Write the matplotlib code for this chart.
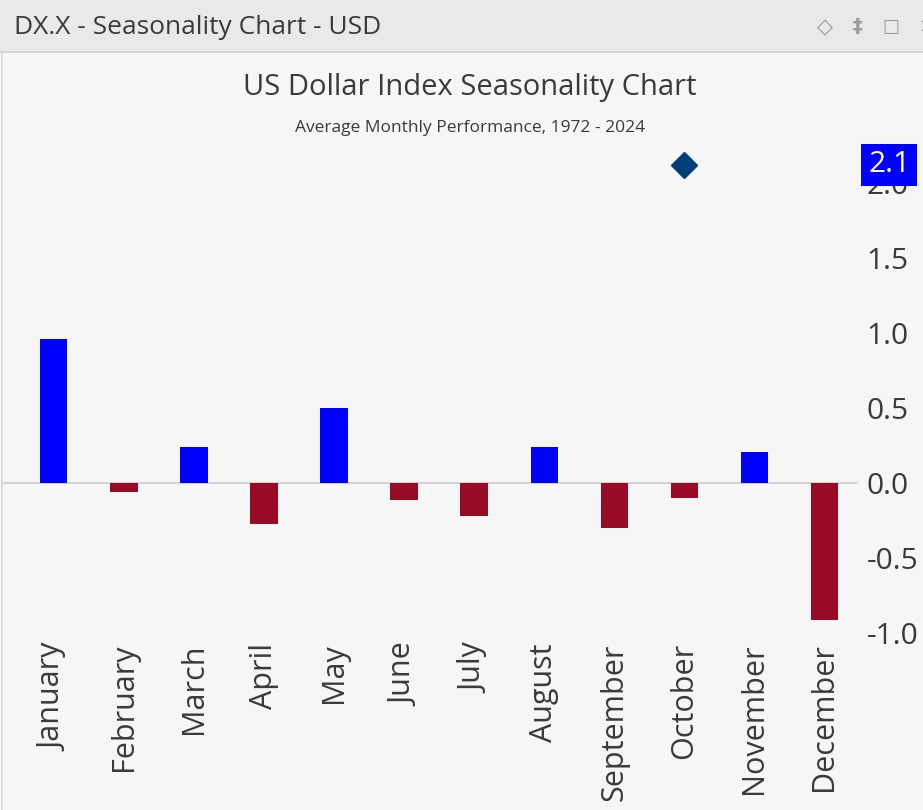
import matplotlib.pyplot as plt
import numpy as np

# Datos: rendimiento medio mensual del índice del dólar (%)
meses = ['January', 'February', 'March', 'April', 'May', 'June', 'July',
         'August', 'September', 'October', 'November', 'December']
rendimiento = [0.96, -0.06, 0.24, -0.27, 0.50, -0.11, -0.22, 0.24, -0.30, -0.10, 0.21, -0.91]
mes_actual = 9
valor_actual = 2.12
yticks = [-1.0, -0.5, 0.0, 0.5, 1.0, 1.5, 2.0]

azul = '#0000ff'
rojo = '#990a26'
gris_texto = '#3a3a3a'
fondo = '#f6f6f6'

plt.rcParams['font.family'] = ['Open Sans', 'DejaVu Sans']

fig = plt.figure(figsize=(9.23, 8.10), dpi=100)
fig.patch.set_facecolor(fondo)

# Cabecera de la ventana
fig.patches.append(plt.Rectangle((0, 1 - 52 / 810), 1, 52 / 810, transform=fig.transFigure,
                                 facecolor='#e9e9e9', edgecolor='none', zorder=0))
fig.lines.append(plt.Line2D([0, 1], [1 - 52 / 810, 1 - 52 / 810], transform=fig.transFigure,
                            color='#cfcfcf', lw=1.2))
# borde izquierdo del panel
fig.lines.append(plt.Line2D([2 / 923, 2 / 923], [0, 1 - 52 / 810], transform=fig.transFigure,
                            color='#d8d8d8', lw=1.2))
fig.text(14 / 923, 1 - 27 / 810, 'DX.X - Seasonality Chart - USD', fontsize=19,
         color=gris_texto, va='center', ha='left')
fig.text(825 / 923, 1 - 27 / 810, '◇', fontsize=15, family='DejaVu Sans', color='#999999',
         va='center', ha='center')
fig.text(857 / 923, 1 - 27 / 810, '‡', fontsize=14, family='DejaVu Sans', color='#999999',
         va='center', ha='center', fontweight='bold')
fig.text(891 / 923, 1 - 27 / 810, '□', fontsize=13, family='DejaVu Sans', color='#999999',
         va='center', ha='center')
fig.text(918 / 923, 1 - 27 / 810, '×', fontsize=14, family='DejaVu Sans', color='#999999',
         va='center', ha='left')

# Títulos
fig.text(470 / 923, 1 - 88 / 810, 'US Dollar Index Seasonality Chart', fontsize=21,
         color=gris_texto, ha='center', va='center')
fig.text(470 / 923, 1 - 128 / 810, 'Average Monthly Performance, 1972 - 2024', fontsize=12.5,
         color=gris_texto, ha='center', va='center')

ax = fig.add_axes([2 / 923, (810 - 640.5) / 810, 856 / 923, 510 / 810])
ax.set_facecolor(fondo)

x = np.arange(len(meses))
colores = [azul if v >= 0 else rojo for v in rendimiento]
ax.bar(x, rendimiento, width=0.39, color=colores, zorder=3)
ax.axhline(0, color='#cccccc', lw=1.2, zorder=2)
ax.plot([mes_actual], [valor_actual], marker='D', markersize=13, color='#003f7a',
        linestyle='none', zorder=4)

ax.set_xlim(-0.74, 11.48)
ax.set_ylim(-1.05, 2.35)
ax.set_xticks(x)
ax.set_xticklabels(meses, rotation=90, fontsize=22, color=gris_texto, va='top')
ax.set_yticks(yticks)
ax.set_yticklabels([f'{v:.1f}' for v in yticks], fontsize=21.5, color=gris_texto)
ax.yaxis.tick_right()
ax.tick_params(axis='both', length=0)
ax.tick_params(axis='x', pad=2)
ax.tick_params(axis='y', pad=6)

for lado in ['top', 'right', 'bottom', 'left']:
    ax.spines[lado].set_visible(False)

# Etiqueta del valor actual
ax.annotate(f'{valor_actual:.1f}', xy=(1.0, valor_actual), xycoords=('axes fraction', 'data'),
            xytext=(10, 0), textcoords='offset pixels', fontsize=21.5, color='white',
            va='center', ha='left', zorder=10, annotation_clip=False,
            bbox=dict(boxstyle='square,pad=0.22', facecolor=azul, edgecolor='none'))

fig.savefig('out.png', dpi=100, facecolor=fondo)
